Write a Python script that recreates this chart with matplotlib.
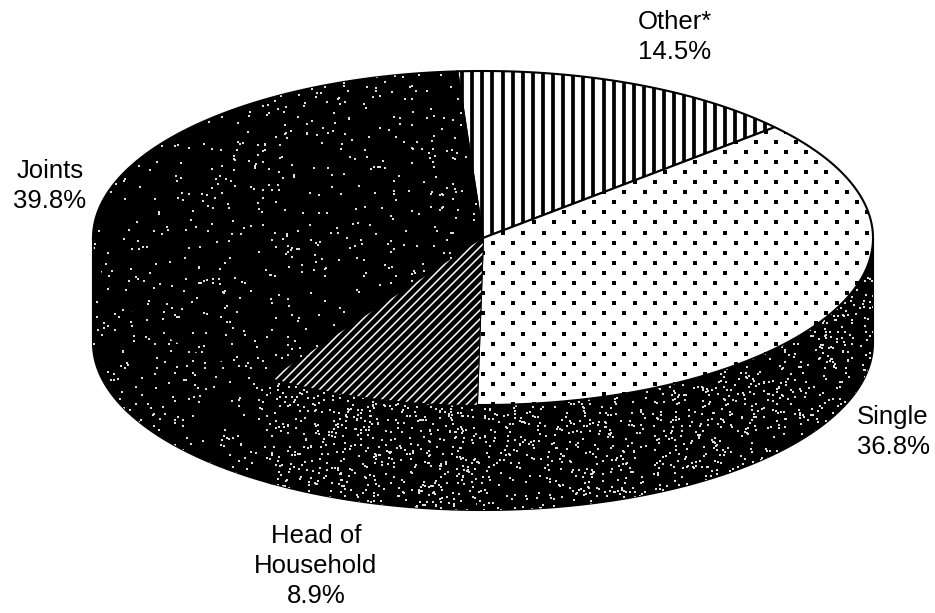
import numpy as np
import matplotlib
matplotlib.use('Agg')
import matplotlib.pyplot as plt
from matplotlib.patches import Polygon

# Slice shares, clockwise starting from Other
labels = ['Other*', 'Single', 'Head of\nHousehold', 'Joints']
shares = [14.5, 36.8, 8.9, 39.8]
label_x = [675, 893, 316, 50]
label_y = [37, 432, 566, 186]

# Pie geometry in pixels
cx, cy = 483, 238
rx, ry = 390, 167
depth = 105
start_pct = -1.05

plt.rcParams['font.family'] = ['Liberation Sans', 'DejaVu Sans']

fig = plt.figure(figsize=(9.35, 6.13), dpi=100)
ax = fig.add_axes([0, 0, 1, 1])
ax.set_xlim(0, 935)
ax.set_ylim(613, 0)
ax.axis('off')


def rim(t, dy=0):
    return cx + rx * np.sin(t), cy + dy - ry * np.cos(t)


def stipple(patch, per_px):
    # speckle texture for the dark areas, hashed so it stays the same every run
    xs, ys = patch.get_xy().T
    x0, y0 = xs.min(), ys.min()
    w, h = xs.max() - x0, ys.max() - y0
    n = int(w * h * per_px)
    i = np.arange(1, n + 1)
    px = x0 + (np.sin(i * 12.9898) * 43758.5453 % 1) * w
    py = y0 + (np.sin(i * 78.233) * 24634.6345 % 1) * h
    art = ax.scatter(np.round(px) + 0.5, np.round(py) + 0.5, s=0.6, marker='s',
                     color='#dddddd', linewidths=0, zorder=patch.get_zorder() + 0.1)
    art.set_clip_path(patch)


def stripes(patch):
    xs = np.arange(cx - 31, cx + rx, 10.1)
    art = ax.vlines(xs, 0, 613, color='black', lw=2.7, zorder=patch.get_zorder() + 0.1)
    art.set_clip_path(patch)


def dots(patch):
    px, py = [], []
    for row, y in enumerate(np.arange(cy - ry, cy + ry + 10, 10.1)):
        off = 10.1 if row % 2 else 0
        for x in np.arange(cx + off, cx + rx + 20, 20.2):
            px.append(x)
            py.append(y)
    art = ax.scatter(px, py, s=10, marker='s', color='black', linewidths=0,
                     zorder=patch.get_zorder() + 0.1)
    art.set_clip_path(patch)


def diagonals(patch):
    for c in np.arange(300, 1000, 9.0):
        ln, = ax.plot([c - 250, c + 250], [cy + 250, cy - 250],
                      color='white', lw=1.1, zorder=patch.get_zorder() + 0.1)
        ln.set_clip_path(patch)


edges = (start_pct + np.cumsum([0] + shares)) / 100 * 2 * np.pi
side_density = [0, 0.02, 0.024, 0.008]

# side walls first
for k in range(4):
    t0 = max(edges[k], np.pi / 2)
    t1 = min(edges[k + 1], 3 * np.pi / 2)
    if t1 <= t0:
        continue
    t = np.linspace(t0, t1, 120)
    x, y = rim(t)
    xb, yb = rim(t[::-1], depth)
    wall = Polygon(np.column_stack([np.r_[x, xb], np.r_[y, yb]]), closed=True,
                   facecolor='black', edgecolor='black', lw=1.5, zorder=2)
    ax.add_patch(wall)
    stipple(wall, side_density[k])

# top faces
for k in range(4):
    t = np.linspace(edges[k], edges[k + 1], 200)
    x, y = rim(t)
    pts = np.column_stack([np.r_[cx, x], np.r_[cy, y]])
    if k == 0:
        top = Polygon(pts, closed=True, facecolor='white', edgecolor='black', lw=1.5, zorder=3)
        ax.add_patch(top)
        stripes(top)
    elif k == 1:
        top = Polygon(pts, closed=True, facecolor='white', edgecolor='black', lw=1.5, zorder=3)
        ax.add_patch(top)
        dots(top)
    elif k == 2:
        top = Polygon(pts, closed=True, facecolor='black', edgecolor='black', lw=1.5, zorder=3)
        ax.add_patch(top)
        diagonals(top)
    else:
        top = Polygon(pts, closed=True, facecolor='black', edgecolor='black', lw=1.5, zorder=3)
        ax.add_patch(top)
        stipple(top, 0.006)

for name, share, lx, ly in zip(labels, shares, label_x, label_y):
    ax.text(lx, ly, f'{name}\n{share}%', ha='center', va='center', fontsize=18.5,
            linespacing=1.34, color='black', zorder=6)

fig.savefig('out.png', dpi=100)
